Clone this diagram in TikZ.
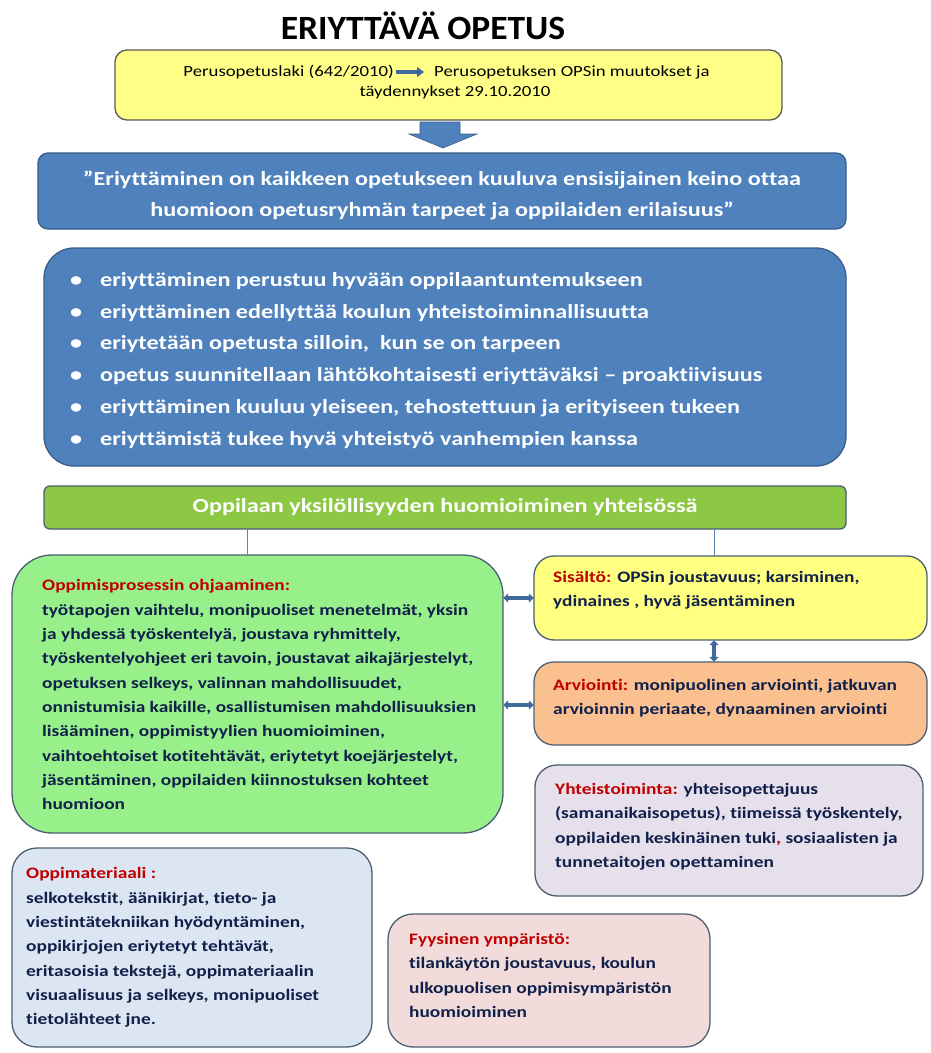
\documentclass[tikz,border=0pt]{standalone}
\usepackage{fontspec}
\setmainfont[FakeStretch=1.21,Ligatures=NoCommon]{Carlito}
\newfontfamily\titlefont[FakeStretch=1.045,Ligatures=NoCommon]{Carlito}
\usetikzlibrary{arrows.meta}
\definecolor{navy}{HTML}{10204A}
\definecolor{hred}{HTML}{C00000}
\definecolor{topyel}{HTML}{FFFF88}
\definecolor{bblue}{HTML}{4F81BD}
\definecolor{bblueb}{HTML}{385D8A}
\definecolor{gbar}{HTML}{8DC844}
\definecolor{lgreen}{HTML}{98F08A}
\definecolor{syel}{HTML}{FFFF80}
\definecolor{aorange}{HTML}{FAC08F}
\definecolor{ylav}{HTML}{E6E0EC}
\definecolor{mblue}{HTML}{DCE6F2}
\definecolor{fpink}{HTML}{F2DCDB}
\definecolor{boxline}{HTML}{4A5E74}
\definecolor{arrblue}{HTML}{3F6A9A}
\begin{document}
\begin{tikzpicture}[x=1pt,y=-1pt,
  box/.style={draw=boxline, line width=1.3pt, rounded corners=#1},
  box/.default=20pt,
  body/.style={anchor=north west, inner sep=0pt, align=left, text=navy,
    font=\bfseries\fontsize{16}{24.3}\selectfont},
  dbl/.style={arrblue, line width=3.5pt, {Triangle[length=5pt,width=9pt]}-{Triangle[length=5pt,width=9pt]}},
  conn/.style={draw=bblue!70!gray, line width=0.8pt}]
\useasboundingbox (0,0) rectangle (930,1053);
\fill[white] (0,0) rectangle (930,1053);

% title
\node[font=\titlefont\bfseries\fontsize{34}{40}\selectfont, text=black] (title) at (423,26) {ERIYTTÄVÄ OPETUS};

% top yellow box
\filldraw[box=12pt, fill=topyel, draw=gray!70!black] (115,50) rectangle (782,120);
\node (topbox) at (448.5,85) [minimum width=667pt, minimum height=70pt] {};
\node[anchor=east, inner sep=0pt, font=\fontsize{15.5}{20}\selectfont] (law) at (394,72) {Perusopetuslaki (642/2010)};
\node[anchor=west, inner sep=0pt, font=\fontsize{15.5}{20}\selectfont] (ops) at (434,72) {Perusopetuksen OPSin muutokset ja};
\node[inner sep=0pt, font=\fontsize{15.5}{20}\selectfont] (tay) at (455,92) {täydennykset 29.10.2010};
\draw[arrblue, line width=3.5pt, -{Triangle[length=7pt,width=10pt]}] ([xshift=2pt]law.east) -- ([xshift=-10pt]ops.west);

% block arrow down
\filldraw[fill=bblue, draw=bblueb, line width=0.6pt] (420,122) -- (460,122) -- (460,134) -- (477,134) -- (443,148) -- (409,134) -- (420,134) -- cycle;

% blue quote box
\filldraw[box=10pt, fill=bblue, draw=bblueb] (38,153) rectangle (846,229);
\node[text=white, align=center, font=\bfseries\fontsize{20}{31}\selectfont] (quote) at (442,195.5)
 {”Eriyttäminen on kaikkeen opetukseen kuuluva ensisijainen keino ottaa\\huomioon opetusryhmän tarpeet ja oppilaiden erilaisuus”};

% blue bullet box
\filldraw[box=30pt, fill=bblue, draw=bblueb] (44,248) rectangle (846,466);
\node[anchor=north west, inner sep=0pt, text=white, align=left, font=\bfseries\fontsize{20}{31.8}\selectfont] (bullets) at (70,272) {%
\makebox[30pt][l]{•}eriyttäminen perustuu hyvään oppilaantuntemukseen\\
\makebox[30pt][l]{•}eriyttäminen edellyttää koulun yhteistoiminnallisuutta\\
\makebox[30pt][l]{•}eriytetään opetusta silloin,\ \ kun se on tarpeen\\
\makebox[30pt][l]{•}opetus suunnitellaan lähtökohtaisesti eriyttäväksi – proaktiivisuus\\
\makebox[30pt][l]{•}eriyttäminen kuuluu yleiseen, tehostettuun ja erityiseen tukeen\\
\makebox[30pt][l]{•}eriyttämistä tukee hyvä yhteistyö vanhempien kanssa};

% green bar
\filldraw[box=6pt, fill=gbar, draw=boxline] (44,486) rectangle (846,529);
\node (bar) at (445,507.5) [minimum width=802pt, minimum height=43pt, text=white, font=\bfseries\fontsize{20}{22}\selectfont] {Oppilaan yksilöllisyyden huomioiminen yhteisössä};

% left green box
\filldraw[box=40pt, fill=lgreen, draw=boxline] (12,555) rectangle (503,833);
\node (lbox) at (257.5,694) [minimum width=491pt, minimum height=278pt] {};
\node[body] (ltxt) at (42,579.5) {\textcolor{hred}{Oppimisprosessin ohjaaminen:}\\
työtapojen vaihtelu, monipuoliset menetelmät, yksin\\
ja yhdessä työskentelyä, joustava ryhmittely,\\
työskentelyohjeet eri tavoin, joustavat aikajärjestelyt,\\
opetuksen selkeys, valinnan mahdollisuudet,\\
onnistumisia kaikille, osallistumisen mahdollisuuksien\\
lisääminen, oppimistyylien huomioiminen,\\
vaihtoehtoiset kotitehtävät, eriytetyt koejärjestelyt,\\
jäsentäminen, oppilaiden kiinnostuksen kohteet\\
huomioon};

% Sisalto
\filldraw[box=20pt, fill=syel, draw=boxline] (534,556) rectangle (927,640);
\node (sis) at (730.5,598) [minimum width=393pt, minimum height=84pt] {};
\node[body] (sistxt) at (553,571) {\textcolor{hred}{Sisältö:} OPSin joustavuus; karsiminen,\\ydinaines , hyvä jäsentäminen};

% Arviointi
\filldraw[box=20pt, fill=aorange, draw=boxline] (534,662) rectangle (927,745);
\node (arv) at (730.5,703.5) [minimum width=393pt, minimum height=83pt] {};
\node[body] (arvtxt) at (553,679) {\textcolor{hred}{Arviointi:} monipuolinen arviointi, jatkuvan\\arvioinnin periaate, dynaaminen arviointi};

% Yhteistoiminta
\filldraw[box=22pt, fill=ylav, draw=boxline] (535,765) rectangle (923,896);
\node (yht) at (729,830.5) [minimum width=388pt, minimum height=131pt] {};
\node[body] (yhttxt) at (555,783) {\textcolor{hred}{Yhteistoiminta:} yhteisopettajuus\\
(samanaikaisopetus), tiimeissä työskentely,\\
oppilaiden keskinäinen tuki\textcolor{hred}{,} sosiaalisten ja\\
tunnetaitojen opettaminen};

% Oppimateriaali
\filldraw[box=25pt, fill=mblue, draw=boxline] (12,848) rectangle (372,1047);
\node (mat) at (192,947.5) [minimum width=360pt, minimum height=199pt] {};
\node[body] (mattxt) at (26,867.5) {\textcolor{hred}{Oppimateriaali :}\\
selkotekstit, äänikirjat, tieto- ja\\
viestintätekniikan hyödyntäminen,\\
oppikirjojen eriytetyt tehtävät,\\
eritasoisia tekstejä, oppimateriaalin\\
visuaalisuus ja selkeys, monipuoliset\\
tietolähteet jne.};

% Fyysinen
\filldraw[box=25pt, fill=fpink, draw=boxline] (388,914) rectangle (710,1047);
\node (fyy) at (549,980.5) [minimum width=322pt, minimum height=133pt] {};
\node[body] (fyytxt) at (409,933) {\textcolor{hred}{Fyysinen ympäristö:}\\
tilankäytön joustavuus, koulun\\
ulkopuolisen oppimisympäristön\\
huomioiminen};

% connectors
\coordinate (c1) at (247,0);
\coordinate (c2) at (714,0);
\coordinate (r1) at (0,598);
\coordinate (r2) at (0,705);
\draw[conn] (bar.south -| c1) -- (lbox.north -| c1);
\draw[conn] (bar.south -| c2) -- (sis.north -| c2);
\draw[dbl] (lbox.east |- r1) -- (sis.west |- r1);
\draw[dbl] (lbox.east |- r2) -- (arv.west |- r2);
\draw[dbl] (sis.south -| c2) -- (arv.north -| c2);
\end{tikzpicture}
\end{document}
